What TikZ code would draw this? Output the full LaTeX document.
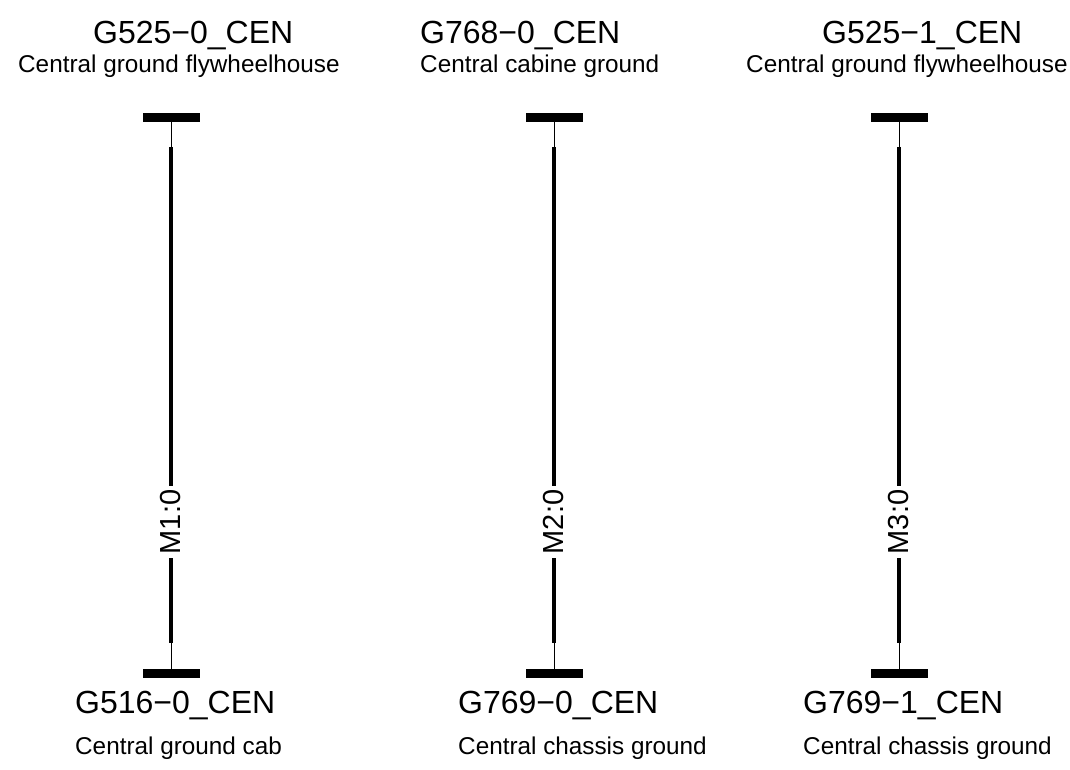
\documentclass[tikz,border=0pt]{standalone}
\usepackage{fontspec}
\setmainfont{Liberation Sans}
\begin{document}
\begin{tikzpicture}[x=1pt,y=-1pt,
  ttl/.style={anchor=base west,inner sep=0pt,font=\fontsize{32}{36}\selectfont},
  sub/.style={anchor=base west,inner sep=0pt,font=\fontsize{24.3}{28}\selectfont},
  bar/.style={line width=9pt},
  thin/.style={line width=0.8pt},
  wire/.style={line width=3.6pt},
  mlab/.style={rotate=90,fill=white,inner xsep=4pt,inner ysep=0pt,font=\fontsize{29}{32}\selectfont}]
\useasboundingbox (0,0) rectangle (1070,770);
\fill[white] (0,0) rectangle (1070,770);
% texts
\node[ttl] (t1) at (93,44) {G525−0\_CEN};
\node[sub] (s1) at (18,73) {Central ground flywheelhouse};
\node[ttl] (t2) at (420,44) {G768−0\_CEN};
\node[sub] (s2) at (420,73) {Central cabine ground};
\node[ttl] (t3) at (822,44) {G525−1\_CEN};
\node[sub] (s3) at (746,73) {Central ground flywheelhouse};
\node[ttl] (b1) at (75,713) {G516−0\_CEN};
\node[sub] (c1) at (75,754) {Central ground cab};
\node[ttl] (b2) at (458,713) {G769−0\_CEN};
\node[sub] (c2) at (458,754) {Central chassis ground};
\node[ttl] (b3) at (803,713) {G769−1\_CEN};
\node[sub] (c3) at (803,754) {Central chassis ground};
% columns
\foreach \x/\n/\lab in {171/1/M1:0, 554/2/M2:0, 899/3/M3:0}{
  \coordinate (ta\n) at (\x-28,117.5);
  \coordinate (tb\n) at (\x+29,117.5);
  \coordinate (tt\n) at (\x,122);
  \coordinate (tw\n) at (\x,147);
  \coordinate (bw\n) at (\x,643);
  \coordinate (bt\n) at (\x,669);
  \coordinate (ba\n) at (\x-28,673);
  \coordinate (bb\n) at (\x+29,673);
  \draw[bar] (ta\n) -- (tb\n);
  \draw[bar] (ba\n) -- (bb\n);
  \draw[thin] (tt\n) -- (tw\n);
  \draw[thin] (bw\n) -- (bt\n);
  \draw[wire] (tw\n) -- (bw\n);
  \node[mlab] (m\n) at (\x,522) {\lab};
}
\end{tikzpicture}
\end{document}
